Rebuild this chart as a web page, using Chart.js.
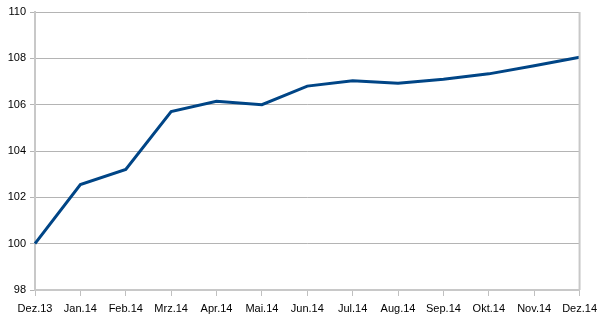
<!DOCTYPE html>
<html>
<head>
<meta charset="utf-8">
<script src="https://cdn.jsdelivr.net/npm/chart.js@4/dist/chart.umd.min.js"></script>
<style>
  html, body { margin: 0; padding: 0; background: #fff; }
  #wrap { width: 603px; height: 320px; }
</style>
</head>
<body>
<div id="wrap"><canvas id="indexChart"></canvas></div>
<script>
const months = ['Dez.13', 'Jan.14', 'Feb.14', 'Mrz.14', 'Apr.14', 'Mai.14', 'Jun.14',
                'Jul.14', 'Aug.14', 'Sep.14', 'Okt.14', 'Nov.14', 'Dez.14'];
const indexValues = [100, 102.55, 103.2, 105.7, 106.15, 106.0, 106.8,
                     107.03, 106.92, 107.1, 107.33, 107.68, 108.05];
const yMin = 98;
const yMax = 110;
const yStep = 2;

// right border of the plot area
const frameRight = {
    id: 'frameRight',
    afterDraw(chart) {
        const a = chart.chartArea;
        const ctx = chart.ctx;
        ctx.save();
        ctx.strokeStyle = '#c8c8c8';
        ctx.lineWidth = 2;
        ctx.beginPath();
        ctx.moveTo(a.right, a.top);
        ctx.lineTo(a.right, a.bottom);
        ctx.stroke();
        ctx.restore();
    }
};

const ctx = document.getElementById('indexChart').getContext('2d');
new Chart(ctx, {
    type: 'line',
    data: {
        labels: months,
        datasets: [{
            data: indexValues,
            borderColor: '#004586',
            borderWidth: 3,
            pointRadius: 0,
            tension: 0,
            fill: false
        }]
    },
    options: {
        responsive: true,
        maintainAspectRatio: false,
        animation: false,
        layout: { padding: { top: 12, right: 22, left: 0, bottom: 0 } },
        plugins: {
            legend: { display: false },
            tooltip: { enabled: false }
        },
        scales: {
            x: {
                offset: false,
                grid: {
                    drawOnChartArea: false,
                    drawTicks: true,
                    tickLength: 6,
                    color: '#c0c0c0'
                },
                border: { color: '#c8c8c8', width: 2 },
                ticks: {
                    color: '#000',
                    font: { family: 'Liberation Sans, Arial, sans-serif', size: 11 },
                    padding: 6,
                    maxRotation: 0,
                    autoSkip: false
                },
                afterFit(scale) { scale.height = 30; }
            },
            y: {
                min: yMin,
                max: yMax,
                grid: {
                    color: '#b4b4b4',
                    lineWidth: 1,
                    tickLength: 5
                },
                border: { color: '#c8c8c8', width: 2 },
                ticks: {
                    stepSize: yStep,
                    color: '#000',
                    font: { family: 'Liberation Sans, Arial, sans-serif', size: 11 },
                    padding: 4
                },
                afterFit(scale) { scale.width = 35; }
            }
        }
    },
    plugins: [frameRight]
});
</script>
</body>
</html>
